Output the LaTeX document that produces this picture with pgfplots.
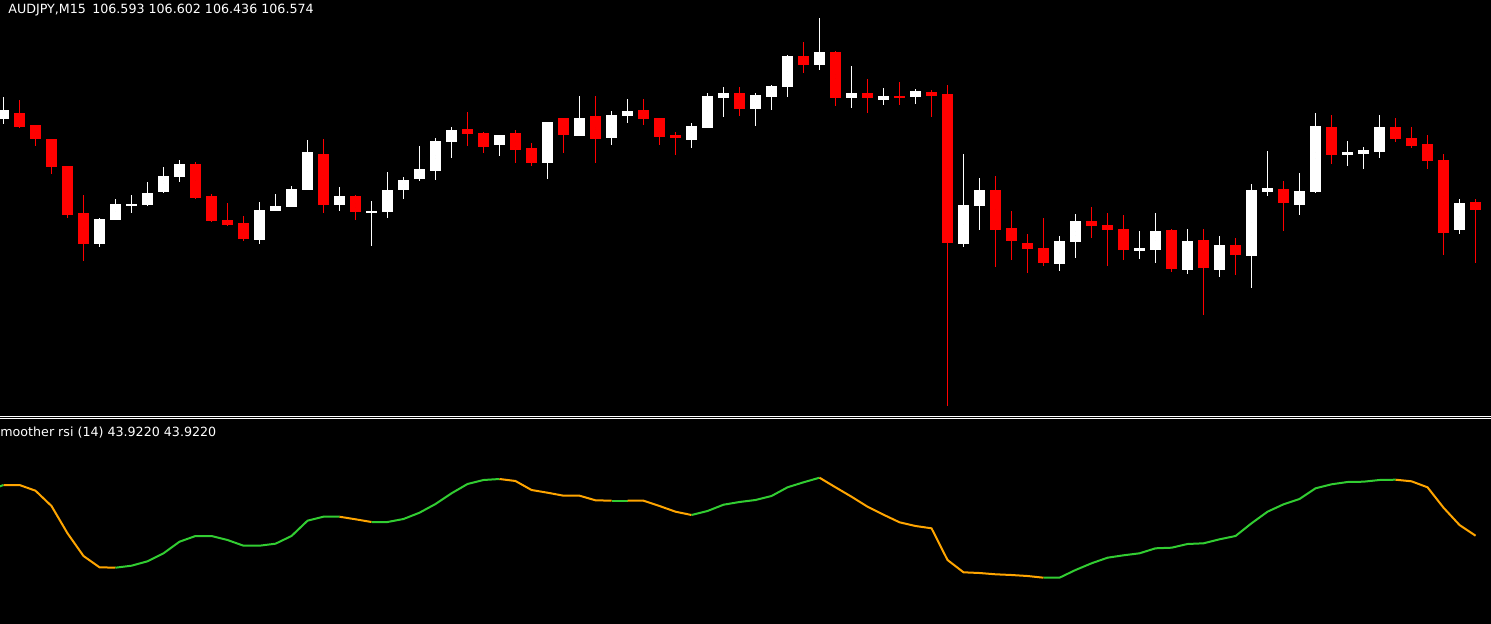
\documentclass[border=0pt]{standalone}
\usepackage{pgfplots}
\pgfplotsset{compat=1.18}
\usepackage{pgfplotstable}
\usepackage{fontspec}
\setmainfont{DejaVu Sans}
\definecolor{mtred}{HTML}{FF0000}
\definecolor{mtgreen}{HTML}{32CD32}
\definecolor{mtorange}{HTML}{FFA500}

% candles, values are screen rows (0 = top of chart)
\pgfplotstableread{
i o h l c
0 118.7 96.7 124 110
6 243.7 218.3 246.7 219.3
7 219.7 199 220 204
8 205.7 195 212.7 204
9 204.7 182 205.7 193
10 191.7 167 193.3 176
11 176.7 160 181.7 164
16 239.7 202 243.7 210
17 210.7 194 210.7 206
18 206.7 186 206.7 189
19 190 140 190 152
21 204.7 187 210.7 196
23 212.7 201 245.7 210.7
24 211.7 172 217.7 190
25 189.7 177 198.7 180
26 178.7 146 180.7 169
27 170.7 138 179.7 141
28 141.7 127 157.7 130
31 144.7 135 155.7 135
34 162.7 122 178.7 122
36 135.7 96 135.7 118
38 137.7 111 144.7 115
39 115.7 99 122.7 111
43 139.7 123 147.7 126
44 127.7 93 127.7 96
45 97.7 87 116.7 93
47 108.7 93 125.7 95
48 96.7 85 109.7 86
49 86.7 55 96.7 56
51 64.7 18 69.7 52
53 97.7 66 107.7 93
55 99.7 88 104.7 96
57 96.7 89 103.7 91
60 243.7 154 246.7 205
61 205.7 178 229.7 190
66 263.7 236 270.7 241
67 241.7 214 257.7 221
71 250.7 231 258.7 248
72 249.7 213 262.7 231
74 269.7 229 273.7 241
76 269.7 236 276.7 245
78 255.7 184 287.7 190
79 191.7 151 195.7 188
81 204.7 173 214.7 191
82 191.7 113 192.7 126
84 154.7 141 165.7 152
85 153.7 147 168.7 150
86 151.7 115 157.7 127
91 229.7 199 233.7 203
}\upcandles

\pgfplotstableread{
i o h l c
1 113.3 100 127.7 127
2 125.3 125.3 145.7 138.7
3 139.3 139.3 173.7 166.7
4 166 166 217.7 214.7
5 213.3 195 260.7 243.7
12 164 162.3 198.7 197.7
13 196 194 221.7 220.7
14 220 203 225.7 225
15 223 216 240.7 239
20 154 139 212.7 204.7
22 196 195 219.7 211.7
29 129 112 145.7 133.7
30 133 132 152.7 146.7
32 133 130 162.7 149.7
33 148 143 165.7 162.7
35 118 118 152.7 134.7
37 116 96 162.7 138.7
40 110 99 124.7 118.7
41 118 118 144.7 136.7
42 135 132 154.7 137.7
46 93 87 115.7 108.7
50 56 42 72.7 64.7
52 52 51 105.7 97.7
54 93 79 112.7 97.7
56 96 82 104.7 97.7
58 92 90 116.7 95.7
59 94 85 405.7 242.7
62 190 176 266.7 229.7
63 228 211 259.7 240.7
64 243 234 272.7 248.7
65 248 218 265.7 262.7
68 221 207 237.7 225.7
69 225 213 265.7 229.7
70 229 215 259.7 249.7
73 230 229 271.7 268.7
75 240 229 314.7 267.7
77 245 238 274.7 254.7
80 189 181 230.7 202.7
83 127 115 163.7 154.7
87 127 118 141.7 138.7
88 138 127 147.7 145.7
89 144 135 168.7 160.7
90 160 154 254.7 232.7
92 202 199 262.7 209.7
}\downcandles

\pgfplotstableread{
i v
-0.25 486.5
0 485
1 485
2 490.7
3 506
4 533.3
5 556
6 567.3
7 567.7
8 565.7
9 561.3
10 553.3
11 541.7
12 536
13 536
14 540
15 545.7
16 545.7
17 543.7
18 536
19 520.7
20 516.7
21 516.7
22 519.3
23 522
24 522
25 519
26 512.7
27 504
28 493.3
29 484
30 480
31 479
32 481
33 490
34 492.7
35 495.7
36 495.7
37 500.3
38 500.7
39 500.7
40 500.7
41 506
42 511.7
43 515
44 511
45 504.7
46 502
47 500
48 496
49 487.3
50 482.3
51 477.7
52 487.3
53 496.7
54 506.7
55 514.7
56 522.3
57 526
58 528.3
59 560
60 572.3
61 573
62 574.3
63 575
64 576
65 577.7
66 577.7
67 570
68 563.3
69 557.7
70 555.3
71 553.3
72 548.3
73 547.7
74 544
75 543.3
76 539.3
77 536
78 523.3
79 511.7
80 504.3
81 499
82 488.3
83 484.3
84 482
85 481.7
86 480
87 479.7
88 481.3
89 487.3
90 507.7
91 525
92 535.7
}\rsi

\pgfplotsset{
  mtpanel/.style={anchor=north west, scale only axis, width=745.5pt,
    xmin=-0.21875, xmax=92.96875, y dir=reverse, hide axis,
    enlargelimits=false},
  wick/.style={only marks, mark=*, mark size=0pt,
    mark options={draw=none, fill=none}, forget plot,
    error bars/.cd, y dir=both, y explicit, error mark=none,
    error bar style={draw=#1, line width=0.75pt}},
  body/.style={only marks, mark=*, mark size=0pt,
    mark options={draw=none, fill=none}, forget plot,
    error bars/.cd, y dir=both, y explicit, error mark=none,
    error bar style={draw=#1, line width=5.5pt}},
  rsiline/.style={no markers, line width=1pt, #1},
}

\begin{document}
\begin{tikzpicture}
\useasboundingbox (0,0) rectangle (745.5pt,-312pt);
\fill[black] (0,0) rectangle (745.5pt,-312pt);

\begin{axis}[mtpanel, at={(0,0)}, height=207.5pt, ymin=0, ymax=415]
\addplot[wick=white] table[x=i, y expr=(\thisrow{h}+\thisrow{l})/2,
  y error expr=(\thisrow{l}-\thisrow{h})/2] {\upcandles};
\addplot[body=white] table[x=i, y expr=(\thisrow{o}+\thisrow{c})/2,
  y error expr=abs(\thisrow{o}-\thisrow{c})/2] {\upcandles};
\addplot[wick=mtred] table[x=i, y expr=(\thisrow{h}+\thisrow{l})/2,
  y error expr=(\thisrow{l}-\thisrow{h})/2] {\downcandles};
\addplot[body=mtred] table[x=i, y expr=(\thisrow{o}+\thisrow{c})/2,
  y error expr=abs(\thisrow{o}-\thisrow{c})/2] {\downcandles};
\end{axis}

\draw[white, line width=0.5pt] (0,-208.25pt) -- (745.5pt,-208.25pt);
\draw[white, line width=0.5pt] (0,-209.25pt) -- (745.5pt,-209.25pt);

\begin{axis}[mtpanel, at={(0,-209.5pt)}, height=102.5pt, ymin=419, ymax=624]
\addplot[rsiline=mtgreen, restrict x to domain=-1:0] table[x=i, y=v] {\rsi};
\addplot[rsiline=mtorange, restrict x to domain=0:7] table[x=i, y=v] {\rsi};
\addplot[rsiline=mtgreen, restrict x to domain=7:21] table[x=i, y=v] {\rsi};
\addplot[rsiline=mtorange, restrict x to domain=21:23] table[x=i, y=v] {\rsi};
\addplot[rsiline=mtgreen, restrict x to domain=23:31] table[x=i, y=v] {\rsi};
\addplot[rsiline=mtorange, restrict x to domain=31:38] table[x=i, y=v] {\rsi};
\addplot[rsiline=mtgreen, restrict x to domain=38:39] table[x=i, y=v] {\rsi};
\addplot[rsiline=mtorange, restrict x to domain=39:43] table[x=i, y=v] {\rsi};
\addplot[rsiline=mtgreen, restrict x to domain=43:51] table[x=i, y=v] {\rsi};
\addplot[rsiline=mtorange, restrict x to domain=51:65] table[x=i, y=v] {\rsi};
\addplot[rsiline=mtgreen, restrict x to domain=65:87] table[x=i, y=v] {\rsi};
\addplot[rsiline=mtorange, restrict x to domain=87:93] table[x=i, y=v] {\rsi};
\end{axis}

\node[anchor=base west, inner sep=0, text=white, font=\fontsize{6.33pt}{7.5pt}\selectfont]
  at (4pt,-6.67pt) {AUDJPY,M15\hspace{0.5em}106.593 106.602 106.436 106.574};
\node[anchor=base west, inner sep=0, text=white, font=\fontsize{6.33pt}{7.5pt}\selectfont]
  at (0pt,-218.35pt) {moother rsi (14) 43.9220 43.9220};
\end{tikzpicture}
\end{document}
